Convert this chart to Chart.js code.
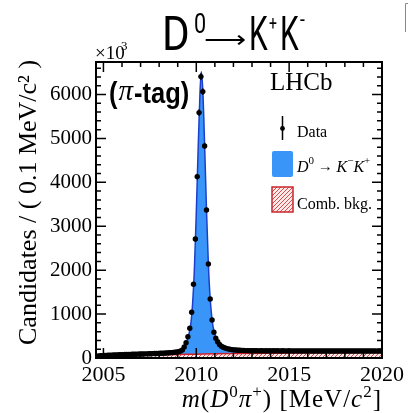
<!DOCTYPE html>
<html>
<head>
<meta charset="utf-8">
<script src="https://cdn.jsdelivr.net/npm/chart.js@4.4.1/dist/chart.umd.min.js"></script>
<style>
  html, body { margin: 0; padding: 0; background: #fff; }
  #wrap { width: 408px; height: 413px; }
</style>
</head>
<body>
<div id="wrap"><canvas id="massChart" width="408" height="413"></canvas></div>
<script>
// histogram binning of m(D0 pi+), 0.1 MeV bins starting at 2004.6
const binLow = 2004.6;
const binWidth = 0.1;
const counts = [
  40, 48, 52, 55, 58, 60, 62, 64, 66, 68,
  70, 72, 73, 75, 77, 78, 80, 81, 83, 84,
  86, 87, 88, 90, 91, 92, 94, 95, 97, 98,
  100, 101, 103, 105, 107, 109, 111, 113, 116, 119,
  122, 126, 131, 137, 146, 160, 185, 250,
  349, 485, 677, 1041, 1679, 2711, 4130, 5588, 6408, 6066,
  4829, 3371, 2141, 1344, 866, 585, 449, 371, 310, 270,
  245, 228, 214, 204, 196, 190, 185, 181, 178, 175,
  173, 171, 169, 168, 167, 166,
  165, 164, 166, 163, 165, 164, 163, 165, 162, 164,
  163, 165, 162, 164, 163, 161, 164, 162, 163, 161,
  163, 162, 160, 163, 161, 162, 160, 162, 161, 163,
  160, 162, 161, 159, 162, 160, 161, 159, 161, 160,
  162, 159, 161, 160, 158, 161, 159, 160, 162, 159,
  160, 158, 161, 159, 160, 158, 160, 161, 159, 160,
  158, 160, 159, 161, 158, 160, 159, 157, 160, 159
];

// total fit (signal + background)
const fitMass  = [2004.6, 2005.5, 2006.5, 2007.5, 2008.5, 2009.0, 2009.3, 2009.5, 2009.7, 2009.8, 2009.9, 2010.0, 2010.1, 2010.2, 2010.27, 2010.35, 2010.45, 2010.55, 2010.65, 2010.75, 2010.9, 2011.1, 2011.4, 2011.8, 2012.5, 2014, 2016, 2018, 2020];
const fitTotal = [35, 67, 84, 98, 117, 140, 215, 400, 760, 1230, 2050, 3300, 4750, 6050, 6520, 6100, 4829, 3371, 2141, 1344, 720, 420, 258, 198, 172, 163, 161, 160, 159];

// combinatorial background
const bkgMass = [2004.6, 2005, 2006, 2007, 2008, 2009, 2010, 2011, 2012, 2014, 2016, 2018, 2020];
const bkgVals = [15, 38, 55, 66, 74, 81, 88, 95, 101, 110, 117, 122, 127];

const xTicks = [2005, 2010, 2015, 2020];
const yTicks = [0, 1000, 2000, 3000, 4000, 5000, 6000];

const serif = "'Liberation Serif', 'Times New Roman', serif";
const sans = "'Liberation Sans', Arial, sans-serif";
const thin = "Roboto, 'Liberation Sans', sans-serif";

function pts(xs, ys) { return xs.map((x, i) => ({ x: x, y: ys[i] })); }
const dataPts = counts.map((c, i) => ({ x: binLow + (i + 0.5) * binWidth, y: c }));

// red hatch for the background component
function hatch() {
  const c = document.createElement('canvas');
  c.width = 4; c.height = 4;
  const g = c.getContext('2d');
  g.fillStyle = 'rgba(255,232,232,0.95)';
  g.fillRect(0, 0, 4, 4);
  g.strokeStyle = 'rgba(200,40,40,0.8)';
  g.lineWidth = 1;
  g.beginPath();
  g.moveTo(0, 4); g.lineTo(4, 0);
  g.moveTo(-1, 1); g.lineTo(1, -1);
  g.moveTo(3, 5); g.lineTo(5, 3);
  g.stroke();
  return document.getElementById('massChart').getContext('2d').createPattern(c, 'repeat');
}
const hatchFill = hatch();

// text squeezed horizontally (condensed look)
function cond(ctx, text, x, y, font, sx) {
  ctx.save();
  ctx.translate(x, y);
  ctx.scale(sx, 1);
  ctx.font = font;
  ctx.fillText(text, 0, 0);
  const w = ctx.measureText(text).width * sx;
  ctx.restore();
  return x + w;
}

// run of text pieces: [text, font, dy]
function run(ctx, pieces, x, y) {
  pieces.forEach(p => {
    ctx.font = p[1];
    ctx.fillText(p[0], x, y + (p[2] || 0));
    x += ctx.measureText(p[0]).width;
  });
  return x;
}
function runWidth(ctx, pieces) {
  let w = 0;
  pieces.forEach(p => { ctx.font = p[1]; w += ctx.measureText(p[0]).width; });
  return w;
}

// frame, inner ticks, error bars, legend and labels
const decor = {
  id: 'decor',
  afterDatasetsDraw(chart) {
    const ctx = chart.ctx;
    const xs = chart.scales.x, ys = chart.scales.y;
    const a = chart.chartArea;
    ctx.save();
    // error bars on data
    ctx.strokeStyle = '#000';
    ctx.lineWidth = 1.2;
    ctx.beginPath();
    counts.forEach((c, i) => {
      const px = xs.getPixelForValue(binLow + (i + 0.5) * binWidth);
      const e = Math.sqrt(c);
      ctx.moveTo(px, ys.getPixelForValue(c + e));
      ctx.lineTo(px, ys.getPixelForValue(c - e));
    });
    ctx.stroke();

    // frame
    ctx.lineWidth = 2;
    ctx.strokeRect(a.left, a.top, a.right - a.left, a.bottom - a.top);
    // ticks inside on all sides
    ctx.lineWidth = 1.5;
    ctx.beginPath();
    for (let v = 2005; v <= 2020; v += 1) {
      const px = xs.getPixelForValue(v);
      const len = (v % 5 === 0) ? 10 : 5;
      ctx.moveTo(px, a.bottom); ctx.lineTo(px, a.bottom - len);
      ctx.moveTo(px, a.top); ctx.lineTo(px, a.top + len);
    }
    for (let v = 0; v <= 6600; v += 200) {
      const py = ys.getPixelForValue(v);
      const len = (v % 1000 === 0) ? 10 : 5;
      ctx.moveTo(a.left, py); ctx.lineTo(a.left + len, py);
      ctx.moveTo(a.right, py); ctx.lineTo(a.right - len, py);
    }
    ctx.stroke();

    ctx.fillStyle = '#000';
    ctx.textBaseline = 'alphabetic';
    // x10^3
    ctx.font = '19px ' + serif;
    ctx.fillText('\u00d710', 95, 59);
    ctx.font = '13px ' + serif;
    ctx.fillText('3', 121, 50);

    // LHCb
    ctx.font = '25px ' + serif;
    ctx.fillText('LHCb', 270, 90);

    // (pi-tag)
    let px = cond(ctx, '(', 109, 103, 'bold 30px ' + sans, 0.85);
    ctx.font = 'italic 29px ' + serif;
    ctx.fillText('\u03c0', px + 1, 100);
    px += ctx.measureText('\u03c0').width + 2;
    cond(ctx, '-tag)', px, 103, 'bold 30px ' + sans, 0.85);

    // legend: data
    ctx.lineWidth = 1.5;
    ctx.beginPath();
    ctx.moveTo(282.5, 116); ctx.lineTo(282.5, 140);
    ctx.stroke();
    ctx.beginPath();
    ctx.arc(282.5, 128.5, 2.4, 0, Math.PI * 2);
    ctx.fill();
    ctx.font = '16px ' + serif;
    ctx.fillText('Data', 297, 137);
    // legend: signal
    ctx.fillStyle = '#3996f8';
    ctx.beginPath();
    ctx.roundRect(272, 151, 21, 26, 2);
    ctx.fill();
    ctx.fillStyle = '#000';
    run(ctx, [
      ['D', 'italic 16px ' + serif],
      ['0', '11px ' + serif, -8],
      [' \u2192 ', '15px ' + serif, -1],
      ['K', 'italic 16px ' + serif],
      ['\u2212', '11px ' + serif, -8],
      ['K', 'italic 16px ' + serif],
      ['+', '11px ' + serif, -8]
    ], 297, 172);
    // legend: background
    ctx.fillStyle = hatchFill;
    ctx.fillRect(272, 187, 21, 25);
    ctx.strokeStyle = '#c8262c';
    ctx.lineWidth = 1.5;
    ctx.strokeRect(272, 187, 21, 25);
    ctx.fillStyle = '#000';
    ctx.font = '16px ' + serif;
    ctx.fillText('Comb. bkg.', 297, 209);

    // x axis title, right aligned to the frame
    const xt = [
      ['m', 'italic 25px ' + serif],
      ['(', '25px ' + serif],
      ['D', 'italic 25px ' + serif],
      ['0', '17px ' + serif, -10],
      ['\u03c0', 'italic 25px ' + serif],
      ['+', '17px ' + serif, -10],
      [') [MeV/', '25px ' + serif],
      ['c', 'italic 25px ' + serif],
      ['2', '17px ' + serif, -10],
      [']', '25px ' + serif]
    ];
    ctx.letterSpacing = '1px';
    run(ctx, xt, a.right - runWidth(ctx, xt), 407);
    ctx.letterSpacing = '0px';

    // title D0 -> K+K-
    cond(ctx, 'D', 162, 50, '48px ' + thin, 0.88);
    cond(ctx, '0', 194, 33, '27px ' + thin, 0.8);
    ctx.font = "200 30px 'DejaVu Sans', sans-serif";
    ctx.save();
    ctx.translate(204, 48);
    ctx.scale(0.98, 0.8);
    ctx.fillText('\u27f6', 0, 0);
    ctx.restore();
    cond(ctx, 'K', 249, 50, '48px ' + thin, 0.62);
    cond(ctx, '+', 269, 30, '20px ' + thin, 0.7);
    cond(ctx, 'K', 280, 50, '48px ' + thin, 0.62);
    cond(ctx, '-', 300, 27, '22px ' + thin, 0.8);

    // small grey bracket top right
    ctx.strokeStyle = '#888';
    ctx.lineWidth = 1;
    ctx.beginPath();
    ctx.moveTo(408, 3.5); ctx.lineTo(405.5, 3.5); ctx.lineTo(405.5, 32);
    ctx.stroke();
    ctx.restore();
  }
};

new Chart(document.getElementById('massChart'), {
  type: 'scatter',
  data: {
    datasets: [
      {
        label: 'Data',
        data: dataPts,
        pointRadius: 2.7,
        pointBackgroundColor: '#000',
        pointBorderWidth: 0,
        showLine: false,
        order: 0
      }, {
        label: 'Comb. bkg.',
        data: pts(bkgMass, bkgVals),
        showLine: true,
        pointRadius: 0,
        borderColor: '#d0202a',
        borderWidth: 1.5,
        backgroundColor: hatchFill,
        fill: 'origin',
        cubicInterpolationMode: 'monotone',
        order: 2
      }, {
        label: 'D0 -> K-K+',
        data: pts(fitMass, fitTotal),
        showLine: true,
        pointRadius: 0,
        borderColor: '#1b3fcc',
        borderWidth: 1.5,
        backgroundColor: '#3996f8',
        fill: 1,
        cubicInterpolationMode: 'monotone',
        order: 3
      }
    ]
  },
  options: {
    responsive: false,
    animation: false,
    events: [],
    layout: { padding: { top: 62, right: 20, left: 0, bottom: 0 } },
    plugins: { legend: { display: false }, tooltip: { enabled: false } },
    scales: {
      x: {
        type: 'linear',
        min: 2004.6,
        max: 2020,
        grid: { display: false, drawTicks: false },
        border: { display: false },
        afterBuildTicks: (s) => { s.ticks = xTicks.map(v => ({ value: v })); },
        afterFit: (s) => { s.height = 55; },
        ticks: {
          color: '#000',
          padding: 4,
          maxRotation: 0,
          font: { family: serif, size: 22 },
          callback: (v) => String(v)
        },
        title: { display: false }
      },
      y: {
        min: 0,
        max: 6740,
        grid: { display: false, drawTicks: false },
        border: { display: false },
        afterBuildTicks: (s) => { s.ticks = yTicks.map(v => ({ value: v })); },
        afterFit: (s) => { s.width = 96; },
        ticks: {
          color: '#000',
          padding: 4,
          font: { family: serif, size: 21 },
          callback: (v) => String(v)
        },
        title: {
          display: true,
          text: '  Candidates / ( 0.1 MeV/c\u00b2 )',
          align: 'start',
          color: '#000',
          font: { family: serif, size: 26 },
          padding: { top: 14, bottom: 0 }
        }
      }
    }
  },
  plugins: [decor]
});
</script>
</body>
</html>
